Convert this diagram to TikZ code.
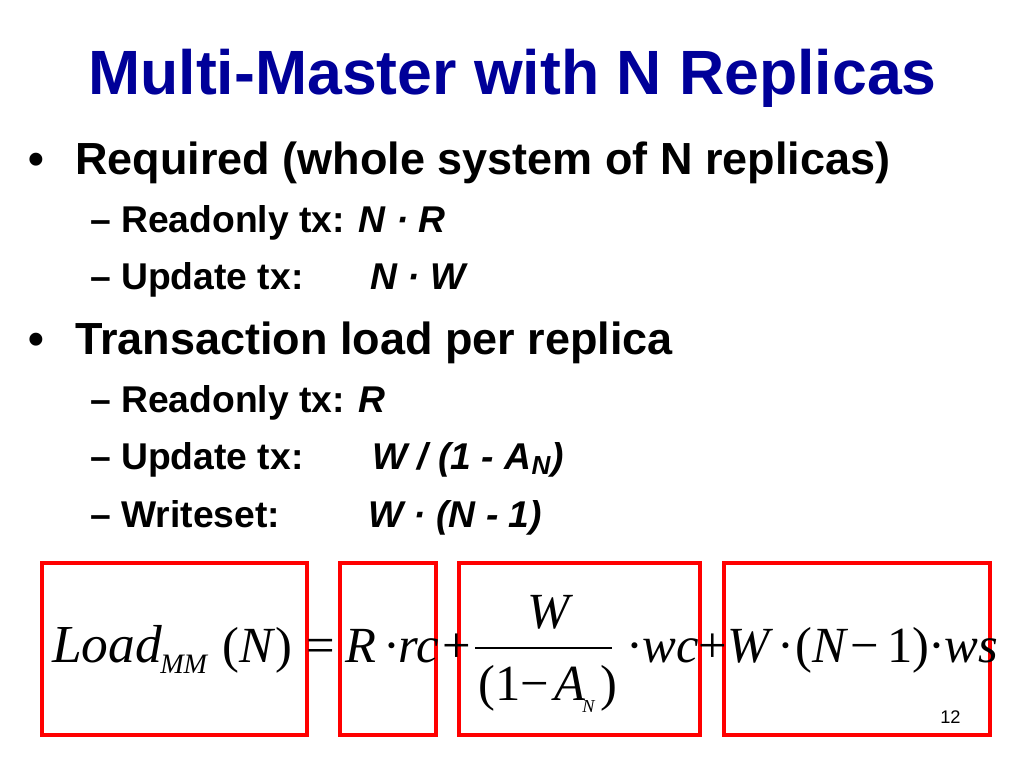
\documentclass[tikz,border=0pt]{standalone}
\usepackage{fontspec}
\setmainfont{Liberation Sans}
\newfontfamily\serifmath{Liberation Serif}
\usetikzlibrary{positioning}
\definecolor{titleblue}{RGB}{0,0,153}
\definecolor{boxred}{RGB}{255,0,0}
\tikzset{
  txt/.style={anchor=base west,inner sep=0pt},
  lvlone/.style={txt,font=\fontsize{32}{36}\selectfont\bfseries},
  lvltwo/.style={txt,font=\fontsize{26.5}{30}\selectfont\bfseries},
  eq/.style={txt,font=\fontsize{36}{40}\serifmath\itshape},
  equp/.style={txt,font=\fontsize{36}{40}\serifmath},
  redbox/.style={draw=boxred,line width=0.1cm}
}
\begin{document}
\begin{tikzpicture}[x=0.025cm,y=-0.025cm]
  \useasboundingbox (0,0) rectangle (1024,768);
  % title
  \node[txt,font=\fontsize{44.5}{50}\selectfont\bfseries,text=titleblue] (title) at (88,95) {Multi-Master with N Replicas};
  % bullets
  \node[lvlone] (b1) at (28,175) {•};
  \node[lvlone] (req) at (75,175) {Required (whole system of N replicas)};
  \node[lvltwo] (r1) at (90,232) {– Readonly tx: \textit{N · R}};
  \node[lvltwo] (u1) at (90,289) {– Update tx:};
  \node[lvltwo] (u1v) at (370,289) {\textit{N · W}};
  \node[lvlone] (b2) at (28,354) {•};
  \node[lvlone] (load) at (75,354) {Transaction load per replica};
  \node[lvltwo] (r2) at (90,412) {– Readonly tx: \textit{R}};
  \node[lvltwo] (u2) at (90,469) {– Update tx:};
  \node[lvltwo] (u2v) at (372,469) {\textit{W / (1 - A\textsubscript{N})}};
  \node[lvltwo] (w2) at (90,527) {– Writeset:};
  \node[lvltwo] (w2v) at (368,527) {\textit{W · (N - 1)}};
  % boxes
  \draw[redbox] (42,563) rectangle (307,735);
  \draw[redbox] (340,563) rectangle (436,735);
  \draw[redbox] (459,563) rectangle (700,735);
  \draw[redbox] (724,563) rectangle (990,735);
  % formula
  \node[eq,font=\fontsize{38}{42}\serifmath\itshape] (lhs) at (52,662) {Load};
  \node[eq,font=\fontsize{20}{22}\serifmath\itshape] (mm) at (160,673) {MM};
  \node[equp] (arg) at (222,662) {(\textit{N})};
  \node[equp] (equal) at (306,662) {=};
  \node[eq] (rr) at (345,662) {R};
  \node[equp] (d1) at (383,662) {·};
  \node[eq] (rc) at (398,662) {rc};
  \node[equp] (plus1) at (442,662) {+};
  \node[eq] (num) at (527,628) {W};
  \draw[line width=0.05cm] (475,648) -- (612,648);
  \node[equp] (den) at (478,700) {(1−};
  \node[eq] (an) at (554,700) {A};
  \node[eq,font=\fontsize{13}{14}\serifmath\itshape] (sub) at (582,712) {N};
  \node[equp] (denc) at (600,700) {)};
  \node[equp] (d2) at (626,662) {·};
  \node[eq] (wc) at (642,662) {wc};
  \node[equp] (plus2) at (698,662) {+};
  \node[eq] (ww) at (727,662) {W};
  \node[equp] (d3) at (777,662) {·};
  \node[equp] (np) at (795,662) {(\textit{N}};
  \node[equp] (nm) at (850,662) {−\,1)};
  \node[equp] (d4) at (928,662) {·};
  \node[eq] (ws) at (944,662) {ws};
  % page number
  \node[txt,font=\fontsize{13}{14}\selectfont] (page) at (940,723) {12};
\end{tikzpicture}
\end{document}
